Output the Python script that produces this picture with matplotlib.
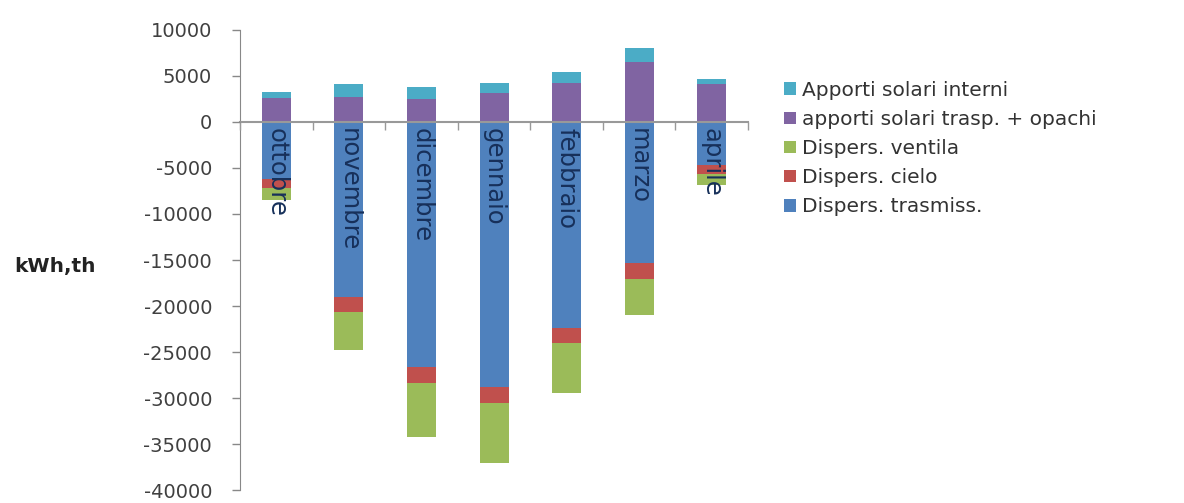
import numpy as np
import matplotlib.pyplot as plt

mesi = ["ottobre", "novembre", "dicembre", "gennaio", "febbraio", "marzo", "aprile"]

# guadagni (positivi)
apporti_trasp_opachi = [2600, 2700, 2500, 3150, 4250, 6500, 4100]
apporti_interni = [650, 1400, 1300, 1100, 1200, 1550, 550]

# dispersioni (negative)
disp_trasmiss = [-6200, -19000, -26600, -28800, -22400, -15300, -4700]
disp_cielo = [-1000, -1650, -1750, -1750, -1600, -1750, -1000]
disp_ventila = [-1300, -4100, -5900, -6500, -5450, -3900, -1100]

col_interni = "#4bacc6"
col_opachi = "#8064a2"
col_ventila = "#9bbb59"
col_cielo = "#c0504d"
col_trasm = "#4f81bd"

plt.rcParams["font.family"] = ["DejaVu Sans"]
plt.rcParams["axes.unicode_minus"] = False

fig = plt.figure(figsize=(11.84, 5.03), dpi=100)
ax = fig.add_axes([0.2027, 0.0258, 0.4291, 0.9146])

x = np.arange(len(mesi))
w = 0.4

opachi = np.array(apporti_trasp_opachi)
trasm = np.array(disp_trasmiss)
cielo = np.array(disp_cielo)

b_int = ax.bar(x, apporti_interni, w, bottom=opachi, color=col_interni)
b_opa = ax.bar(x, opachi, w, color=col_opachi)
b_trm = ax.bar(x, trasm, w, color=col_trasm)
b_cie = ax.bar(x, cielo, w, bottom=trasm, color=col_cielo)
b_ven = ax.bar(x, disp_ventila, w, bottom=trasm + cielo, color=col_ventila)

for i, m in enumerate(mesi):
    ax.text(x[i], -700, m, rotation=270, ha="center", va="top",
            fontsize=17.5, color="#17305a")

ax.set_xlim(-0.5, len(mesi) - 0.5)
ax.set_ylim(-40000, 10000)
ax.set_yticks(np.arange(-40000, 10001, 5000))
ax.tick_params(axis="y", labelsize=14, labelcolor="#404040", color="#888888",
               length=6, width=1, pad=14)

# asse orizzontale sullo zero con tacche tra le categorie
ax.spines["bottom"].set_position(("data", 0))
ax.spines["bottom"].set_color("#999999")
ax.spines["bottom"].set_linewidth(1.5)
ax.set_xticks(np.arange(len(mesi) + 1) - 0.5)
ax.set_xticklabels([])
ax.tick_params(axis="x", direction="out", color="#999999", length=6, width=1)
ax.spines["left"].set_color("#888888")
ax.spines["top"].set_visible(False)
ax.spines["right"].set_visible(False)
ax.set_axisbelow(False)

fig.text(0.012, 0.47, "kWh,th", fontsize=14.5, fontweight="bold",
         color="#222222", va="center")

leg = fig.legend([b_int, b_opa, b_ven, b_cie, b_trm],
                 ["Apporti solari interni", "apporti solari trasp. + opachi",
                  "Dispers. ventila", "Dispers. cielo", "Dispers. trasmiss."],
                 loc="upper left", bbox_to_anchor=(0.655, 0.855), frameon=False,
                 fontsize=14.5, handlelength=0.6, handleheight=0.6,
                 handletextpad=0.3, labelspacing=0.5, borderaxespad=0)
for t in leg.get_texts():
    t.set_color("#333333")

fig.savefig("out.png", dpi=100)
